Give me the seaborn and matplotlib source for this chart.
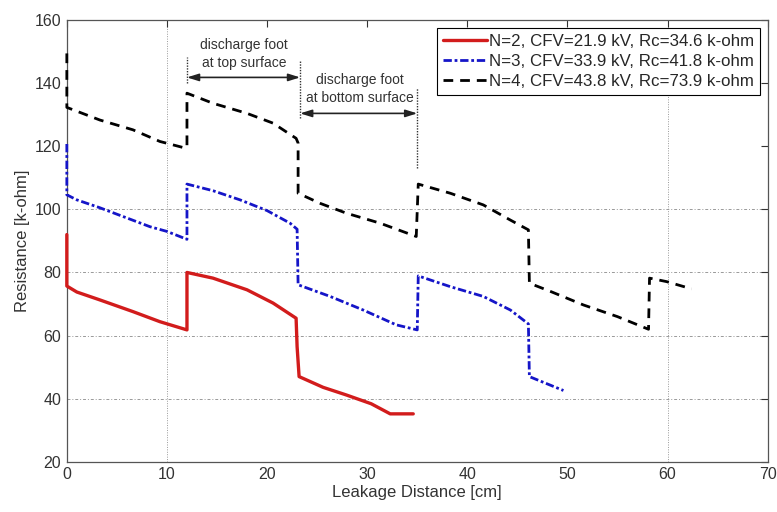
"""
Resistance vs leakage distance for three discharge cases
"""
import pandas as pd
import matplotlib
matplotlib.use('Agg')
import matplotlib.pyplot as plt
import seaborn as sns

# N=2 (red)
x_n2 = [0, 0, 1, 3.3, 6.6, 9.3, 12, 12, 14.6, 18, 20.6, 22.9, 23.0, 23.2,
        25.6, 27.9, 30.4, 32.3, 34.6]
y_n2 = [92, 75.7, 73.8, 71.3, 67.6, 64.4, 61.8, 80.0, 78.2, 74.5, 70.3, 65.5, 56.5, 47.0,
        43.6, 41.2, 38.4, 35.2, 35.2]

# N=3 (blue)
x_n3 = [0, 0, 1, 3.3, 8.3, 10, 12, 12, 14.6, 17.3, 20, 22.3, 23.0, 23.1,
        26.3, 29.6, 32.9, 35.0, 35.1, 38.3, 41.6, 44.3, 46.1, 46.2, 49.6]
y_n3 = [120.7, 104.6, 103, 100.5, 94.5, 93, 90.5, 108, 105.9, 103, 99.6, 95.6, 93.7, 76.1,
        72.4, 68.1, 63.4, 61.8, 78.9, 75.5, 72.4, 68.1, 63.7, 47.0, 42.6]

# N=4 (black)
x_n4 = [0, 0, 3.3, 6.6, 9.3, 11.6, 12, 12, 14.6, 18, 20.6, 22.9, 23.1, 23.1,
        25.3, 27.9, 31.3, 34.9, 35.1, 38.3, 41.6, 44.3, 46.1, 46.2,
        48.3, 51.6, 55, 58.1, 58.2, 59.9, 62.4]
y_n4 = [149.4, 132.3, 128.3, 125.2, 121.5, 119.6, 119.6, 136.8, 133.6, 130.4, 127.3, 122.5, 121, 105.1,
        101.9, 98.8, 95.6, 91.4, 108, 105.1, 101.4, 96.6, 93.5, 76.6,
        74.0, 69.7, 66, 62, 78.2, 77.1, 74.8]

labels = ['N=2, CFV=21.9 kV, Rc=34.6 k-ohm',
          'N=3, CFV=33.9 kV, Rc=41.8 k-ohm',
          'N=4, CFV=43.8 kV, Rc=73.9 k-ohm']

sns.set_style("white")
plt.rcParams['font.family'] = ['Liberation Sans', 'DejaVu Sans']

fig = plt.figure(figsize=(7.77, 5.12), dpi=100)
ax = fig.add_axes([0.086, 0.098, 0.902, 0.863])

# partial grid, as in the original
for yv in [40, 60, 80, 100]:
    ax.axhline(yv, color='#999999', lw=0.7, ls=(0, (3, 2, 1, 2)), zorder=0)
for xv in [10, 60]:
    ax.axvline(xv, color='#999999', lw=0.7, ls=(0, (1, 1.5)), zorder=0)

series = [(x_n2, y_n2, '#d21c1c', '-', 2.4),
          (x_n3, y_n3, '#1515c8', (0, (3, 1, 1, 1)), 2.0),
          (x_n4, y_n4, 'black', (0, (3.5, 2.5)), 2.0)]
for (xs, ys, col, ls, lw), lab in zip(series, labels):
    d = pd.DataFrame({'x': xs, 'y': ys})
    sns.lineplot(data=d, x='x', y='y', sort=False, estimator=None, ax=ax,
                 color=col, lw=lw, linestyle=ls, label=lab,
                 clip_on=False, zorder=3)

ax.set_xlim(0, 70)
ax.set_ylim(20, 160)
ax.set_xticks(range(0, 71, 10))
ax.set_yticks(range(20, 161, 20))
ax.tick_params(direction='in', top=True, right=True, length=5, width=0.8,
               labelsize=11.5, colors='#333333', pad=4)
for s in ax.spines.values():
    s.set_color('#555555')
    s.set_linewidth(0.9)
ax.set_xlabel('Leakage Distance [cm]', fontsize=12, color='#333333', labelpad=2)
ax.set_ylabel('Resistance [k-ohm]', fontsize=12, color='#333333', labelpad=3)

# annotation: discharge foot markers
for xv, y0, y1 in [(12, 140, 148.4), (23.3, 128.9, 147.3), (35, 113, 138.4)]:
    ax.plot([xv, xv], [y0, y1], color='#333333', lw=1.0, ls=(0, (1, 1)))
arrow = dict(arrowstyle='<|-|>,head_length=0.7,head_width=0.22', color='#222222',
             lw=1.2, shrinkA=0, shrinkB=0)
ax.annotate('', xy=(12, 141.8), xytext=(23.3, 141.8), arrowprops=arrow)
ax.annotate('', xy=(23.3, 130.4), xytext=(35, 130.4), arrowprops=arrow)
ax.text(17.7, 152.1, 'discharge foot', ha='center', va='center', fontsize=10, color='#333333')
ax.text(17.7, 146.4, 'at top surface', ha='center', va='center', fontsize=10, color='#333333')
ax.text(29.3, 141.0, 'discharge foot', ha='center', va='center', fontsize=10, color='#333333')
ax.text(29.3, 135.2, 'at bottom surface', ha='center', va='center', fontsize=10, color='#333333')

leg = ax.legend(loc='upper right', fontsize=12.2, frameon=True, fancybox=False,
                edgecolor='black', framealpha=1, borderaxespad=0.45,
                handlelength=2.6, handletextpad=0.1, labelspacing=0.3,
                borderpad=0.35)
leg.get_frame().set_linewidth(0.8)

plt.savefig('out.png', dpi=100)
